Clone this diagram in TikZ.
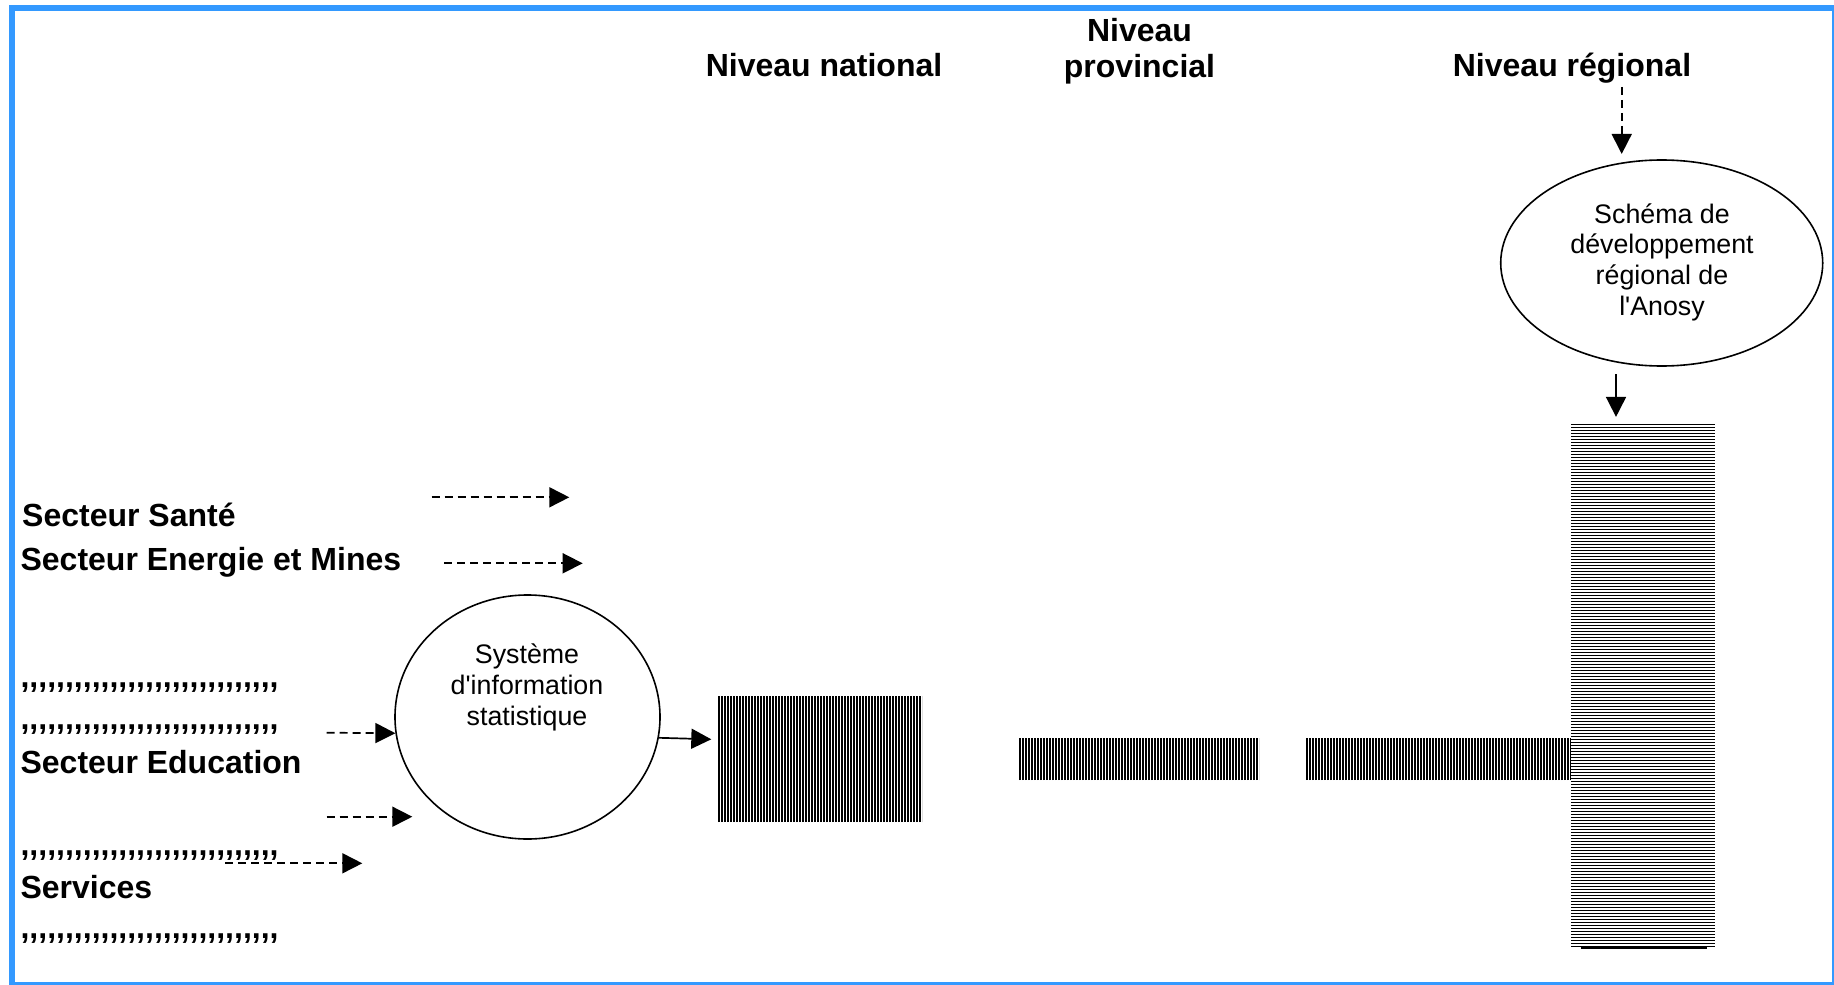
\documentclass[tikz,border=0pt]{standalone}
\usepackage{fontspec}
\newfontfamily\arialsans{Liberation Sans}
\usetikzlibrary{arrows.meta,shapes.geometric,calc}
\definecolor{framecol}{RGB}{51,153,255}

% a row of plain commas, kept apart so no quote ligature forms
\newcommand\commarow{\foreach\i in {1,...,29}{,\kern0pt}}

\tikzset{
  hdr/.style={font=\arialsans\bfseries\fontsize{16}{18}\selectfont, inner sep=0pt, anchor=base, align=center},
  sect/.style={font=\arialsans\bfseries\fontsize{16}{18}\selectfont, inner sep=0pt, anchor=base west},
  bubble/.style={draw, ellipse, line width=0.8pt, inner sep=0pt, fill=white},
  bubbletext/.style={font=\arialsans\fontsize{13.4}{15.4}\selectfont, inner sep=0pt, anchor=base, align=center},
  block/.style={rectangle, inner sep=0pt, fill=white},
  vstripes/.style={path picture={
    \draw[line width=0.75pt]
      \foreach \k in {0,...,100}{
        ([xshift=\k*1.5pt+0.375pt]path picture bounding box.south west) --
        ([xshift=\k*1.5pt+0.375pt]path picture bounding box.north west)
      };
  }},
  hstripes/.style={path picture={
    \draw[line width=0.62pt]
      \foreach \k in {0,...,180}{
        ([yshift=-\k*1.5pt-0.375pt]path picture bounding box.north west) --
        ([yshift=-\k*1.5pt-0.375pt]path picture bounding box.north east)
      };
  }},
  flow/.style={line width=0.85pt, -{Triangle[length=10pt,width=10pt]}},
  dflow/.style={flow, dash pattern=on 4pt off 2.5pt},
}

\begin{document}
\begin{tikzpicture}[x=0.5pt, y=-0.5pt]
\useasboundingbox (0,0) rectangle (1834,984);
\draw[framecol, line width=3pt] (11.5,8) rectangle (1834.7,984.7);

% level headings (multi-line nodes sit on their last baseline)
\node[hdr] (hnat) at (824,76.7) {Niveau national};
\node[hdr] (hprov) at (1139.5,77.7) {Niveau\\provincial};
\node[hdr] (hreg) at (1572,76.7) {Niveau régional};

% sector list
\node[sect] (sante) at (21.8,526) {Secteur Santé};
\node[sect] (energie) at (20.2,570) {Secteur Energie et Mines};
\node[sect] (c1) at (20.2,687) {\commarow};
\node[sect] (c2) at (20.2,729) {\commarow};
\node[sect] (edu) at (20.2,773.3) {Secteur Education};
\node[sect] (c3) at (20.2,855) {\commarow};
\node[sect] (serv) at (20.2,898.3) {Services};
\node[sect] (c4) at (20.2,938) {\commarow};

% information system and regional plan
\node[bubble, minimum width=132.5pt, minimum height=122pt] (sis) at (527.5,717) {};
\node[bubbletext] (sistext) at (527,725) {Système\\d'information\\statistique};
\node[bubble, minimum width=161pt, minimum height=103pt] (sdr) at (1661.7,263) {};
\node[bubbletext] (sdrtext) at (1662,315.5) {Schéma de\\développement\\régional de\\l'Anosy};

% hatched blocks
\node[block, vstripes, minimum width=102pt, minimum height=63pt] (natbox) at (820,759) {};
\node[block, vstripes, minimum width=120pt, minimum height=21pt] (provbar) at (1139,759) {};
\node[block, vstripes, minimum width=132.5pt, minimum height=21pt] (regbar) at (1438.5,759) {};
\node[block, hstripes, minimum width=72pt, minimum height=262pt] (regbox) at (1643,686) {};
\draw[line width=1pt] ([xshift=5pt]regbox.south west) -- ([xshift=-4pt]regbox.south east);

% flows
\coordinate (a1s) at (431.7,497.3);
\coordinate (a1e) at (569.3,497.3);
\coordinate (a2s) at (444,563.3);
\coordinate (a2e) at (582.7,563.3);
\coordinate (a3s) at (326.7,732.7);
\coordinate (a4s) at (326.7,816.7);
\coordinate (a4e) at (412.3,816.7);
\coordinate (a5s) at (225,863.3);
\coordinate (a5e) at (362.3,863.3);
\coordinate (a7s) at (1621.7,87);
\draw[dflow] (a1s) -- (a1e);
\draw[dflow] (a2s) -- (a2e);
\draw[dflow] (a3s) -- (sis.187);
\draw[dflow] (a4s) -- (a4e);
\draw[dflow] (a5s) -- (a5e);
\draw[flow] (sis.-9) -- ($(natbox.west)+(-6.3,-19.7)$);
\draw[dflow] (a7s) -- ($(sdr.north)+(-40,-5.25)$);
\draw[flow] ($(sdr.south)+(-45.7,7.45)$) -- ($(regbox.north)+(-27,-6.7)$);
\end{tikzpicture}
\end{document}
